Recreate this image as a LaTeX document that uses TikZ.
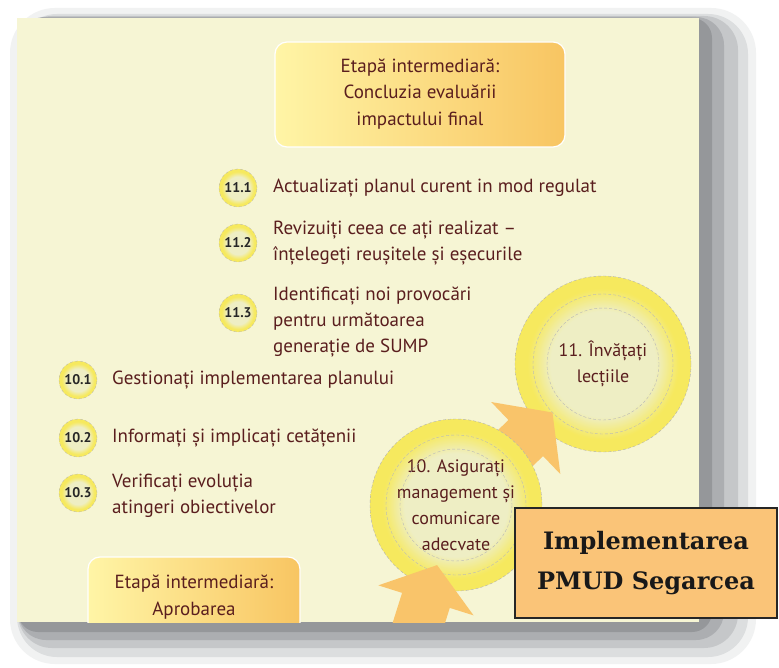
\documentclass[tikz,border=0pt]{standalone}
\usepackage{fontspec}
\setmainfont{PT Sans}
\newfontfamily\implfont{DejaVu Serif}
\usetikzlibrary{arrows.meta}
\definecolor{panel}{HTML}{F6F5D4}
\definecolor{txt}{HTML}{5A1E1E}
\definecolor{ringy}{HTML}{F6E95E}
\definecolor{pale}{HTML}{EEEEC4}
\definecolor{orarrow}{HTML}{F9C46A}
\definecolor{implfill}{HTML}{FAC478}
\definecolor{stageL}{HTML}{FFF5A6}
\definecolor{stageR}{HTML}{F8C562}
\definecolor{shA}{HTML}{F1F2F2}
\definecolor{shB}{HTML}{DCDEDF}
\definecolor{shC}{HTML}{C5C7C9}
\definecolor{shD}{HTML}{ACAEB1}
\definecolor{shE}{HTML}{95979A}
\pgfdeclareradialshading{ringshade}{\pgfpoint{0bp}{0bp}}{color(0bp)=(pale); color(15bp)=(pale); color(18.5bp)=(ringy!55!pale); color(21.5bp)=(ringy); color(25bp)=(ringy); color(50bp)=(ringy)}
\tikzset{
  bigcirc/.style={circle, shading=ringshade, draw=gray!60, densely dashed, line width=0.4pt, align=center, text=txt, font=\fontsize{18}{26}\selectfont, inner sep=0pt},
  smallcirc/.style={circle, shading=ringshade, draw=gray!60, densely dashed, line width=0.3pt, minimum size=38, inner sep=0pt, text=black!85, font=\bfseries\fontsize{14}{15}\selectfont},
  item/.style={anchor=west, align=left, text=txt, font=\fontsize{19}{26}\selectfont, inner sep=0pt},
  stagebox/.style={rounded corners=12, left color=stageL, right color=stageR, draw=white, line width=1.2pt},
  stagetext/.style={align=center, text=txt, font=\fontsize{19}{26.5}\selectfont, inner sep=0pt},
  bigarrow/.style={orarrow, line width=50pt, -{Triangle[width=98pt, length=37pt]}},
  ringline/.style={gray!55, densely dashed, line width=0.4pt},
}
\begin{document}
\begin{tikzpicture}[x=1pt, y=-1pt]
\useasboundingbox (0,0) rectangle (779,668);
\fill[white] (0,0) rectangle (779,668);
% shadow
\fill[shA, rounded corners=45] (10,8) rectangle (756,664);
\fill[shB, rounded corners=40] (17,14) rectangle (748,657);
\fill[shC, rounded corners=34] (18,16) rectangle (738,648);
\fill[shD, rounded corners=28] (18,17) rectangle (724,640);
\fill[shE, rounded corners=20] (18,18) rectangle (712,632);
% panel
\fill[panel] (17,18) rectangle (699,622);
\begin{scope}
\clip (17,18) rectangle (699,622);
% top stage box
\node[stagebox, minimum width=290, minimum height=105] (s1) at (420,94.5) {};
\node[stagetext] (s1t) at (420,94) {Etapă intermediară:\\Concluzia evaluării\\impactului final};
% 11.x items
\node[smallcirc] (n111) at (238,188) {11.1};
\node[item] (t111) at (273,188) {Actualizați planul curent in mod regulat};
\node[smallcirc] (n112) at (238,243) {11.2};
\node[item] (t112) at (273,243.5) {Revizuiți ceea ce ați realizat –\\înțelegeți reușitele și eșecurile};
\node[smallcirc] (n113) at (238,313) {11.3};
\node[item] (t113) at (273,322) {Identificați noi provocări\\pentru următoarea\\generație de SUMP};
% 10.x items
\node[smallcirc] (n101) at (78,380) {10.1};
\node[item] (t101) at (112,380) {Gestionați implementarea planului};
\node[smallcirc] (n102) at (78,438) {10.2};
\node[item] (t102) at (112,438) {Informați și implicați cetățenii};
\node[smallcirc] (n103) at (78,493) {10.3};
\node[item] (t103) at (112,495.5) {Verificați evoluția\\atingeri obiectivelor};
% big circles and arrows
\node[bigcirc, minimum size=176] (c11) at (603,364) {11. Învățați\\lecțiile};
\draw[ringline] (c11.center) circle (70);
\draw[ringline] (c11.center) circle (56);
\coordinate (c10c) at (456,505);
\draw[bigarrow, shorten >=70pt] (c10c) -- (c11.center);
\node[bigcirc, minimum size=172] (c10) at (c10c) {10. Asigurați\\management și\\comunicare\\adecvate};
\draw[ringline] (c10.center) circle (70);
\draw[ringline] (c10.center) circle (56);
\coordinate (b0) at (392,708);
\draw[bigarrow, shorten >=63pt] (b0) -- (c10.center);
% bottom stage box
\node[stagebox, minimum width=212, minimum height=105] (s2) at (194,609.5) {};
\node[stagetext] (s2t) at (194,597) {Etapă intermediară:\\Aprobarea};
\end{scope}
% implementation box
\node[draw=black!85, line width=1.6pt, fill=implfill, minimum width=262, minimum height=110, align=center, text=black!90, font=\implfont\bfseries\fontsize{24}{40}\selectfont] (impl) at (646,563) {Implementarea\\PMUD Segarcea};
\end{tikzpicture}
\end{document}
